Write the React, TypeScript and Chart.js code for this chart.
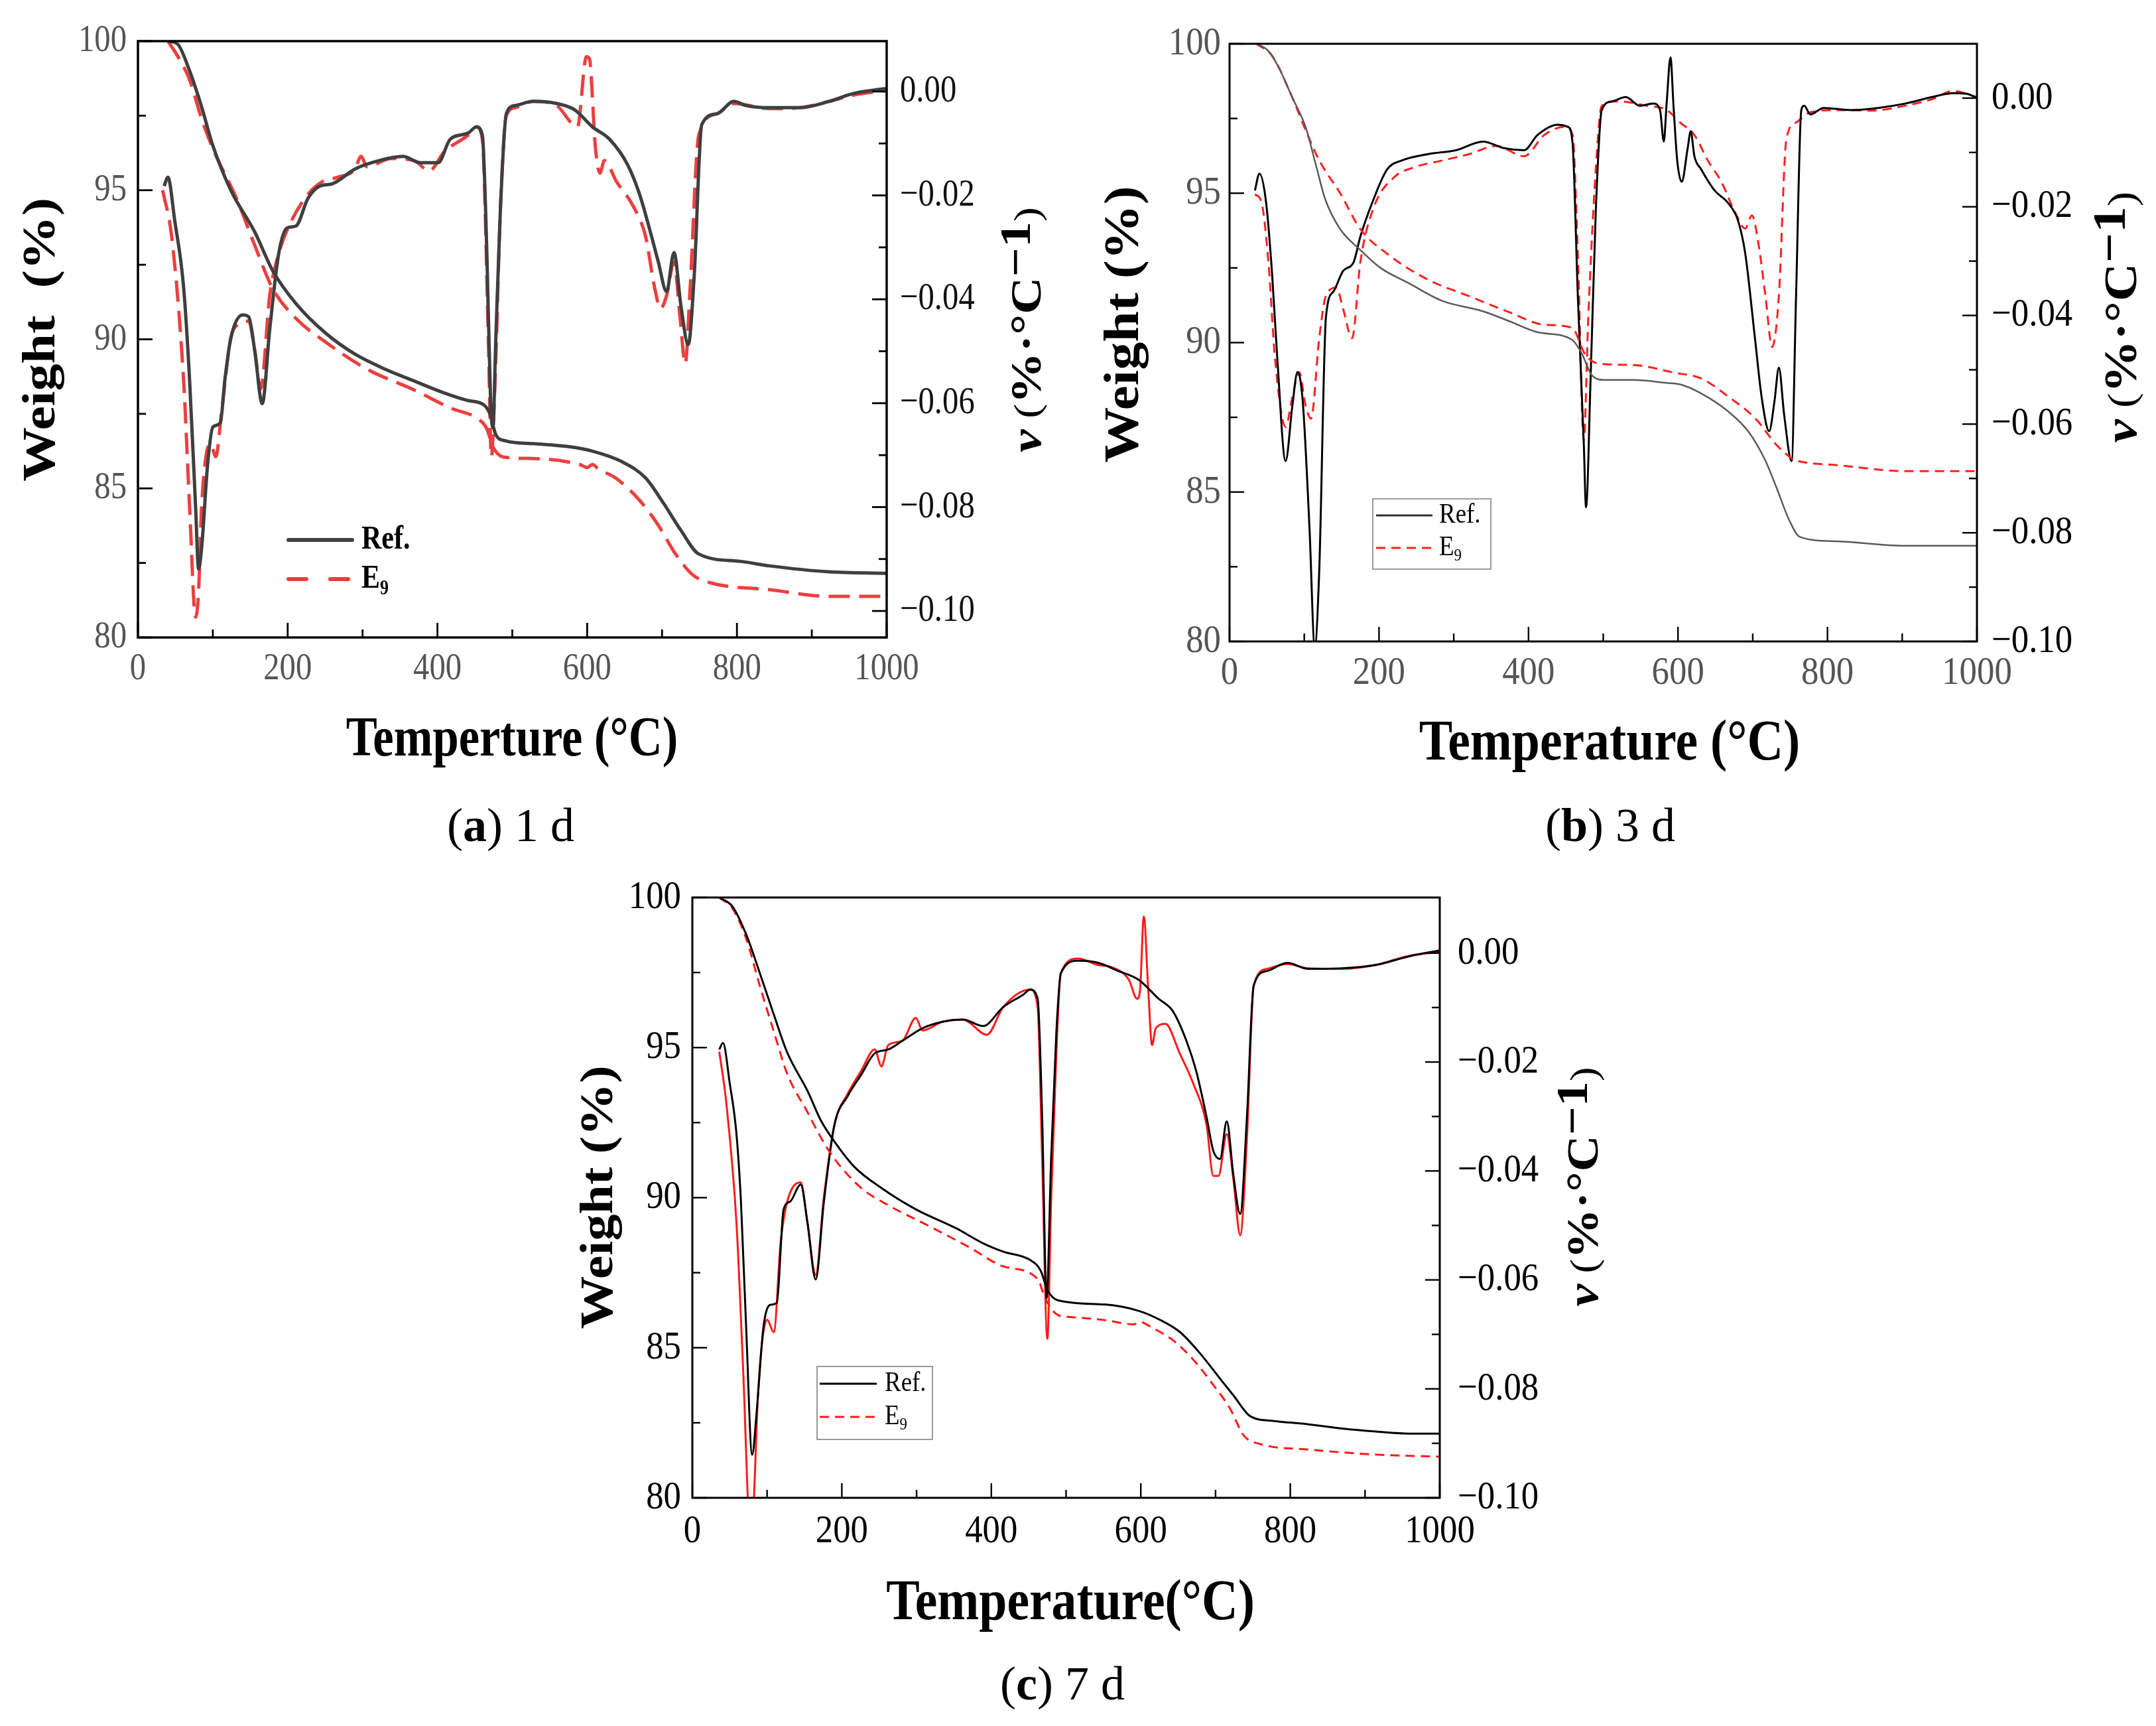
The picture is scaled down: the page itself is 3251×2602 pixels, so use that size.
import { useEffect, useRef } from 'react'
import Chart from 'chart.js/auto'

type Pt = [number, number]

// ---------- (a) 1 d : [temperature °C, value] ----------
const aRefTG: Pt[] = [
  [40, 100], [53, 99.9], [69, 99.0], [85, 97.8], [100, 96.5], [124, 95.0], [156, 93.6], [180, 92.3],
  [211, 91.2], [251, 90.2], [290, 89.5], [330, 89.0], [369, 88.6], [409, 88.2], [440, 87.95], [462, 87.8],
  [470, 87.5], [478, 86.8], [490, 86.6], [528, 86.5], [575, 86.4], [607, 86.25], [646, 85.9], [678, 85.35],
  [702, 84.5], [725, 83.6], [749, 82.8], [805, 82.55], [844, 82.4], [923, 82.2], [1000, 82.15],
]
const aE9TG: Pt[] = [
  [40, 100], [53, 99.5], [69, 98.7], [85, 97.4], [100, 96.4], [132, 94.7], [156, 93.15], [180, 91.7],
  [211, 90.7], [251, 89.9], [306, 89.0], [369, 88.3], [417, 87.7], [456, 87.3], [466, 87.0], [474, 86.4],
  [488, 86.05], [528, 86.0], [590, 85.8], [600, 85.7], [607, 85.8], [615, 85.65], [638, 85.35], [670, 84.6],
  [694, 83.8], [718, 82.8], [741, 82.1], [765, 81.83], [844, 81.6], [923, 81.38], [1000, 81.38],
]
const aRefDTG: Pt[] = [
  [35, -0.0182], [40, -0.0165], [49, -0.0247], [61, -0.0377], [69, -0.0556], [77, -0.08], [81, -0.0919],
  [85, -0.088], [93, -0.0719], [100, -0.0646], [110, -0.0638], [116, -0.0556], [124, -0.0475], [140, -0.043],
  [148, -0.0434], [156, -0.0499], [166, -0.0601], [176, -0.0458], [188, -0.0312], [199, -0.0263], [211, -0.0259],
  [227, -0.0206], [243, -0.0182], [259, -0.0178], [290, -0.0149], [322, -0.0133], [354, -0.0125], [377, -0.0137],
  [401, -0.0137], [417, -0.0092], [441, -0.008], [452, -0.0068], [460, -0.0084], [466, -0.031], [471, -0.0597],
  [474, -0.0646], [478, -0.0475], [484, -0.023], [492, -0.0043], [504, -0.0027], [528, -0.0019], [559, -0.0023],
  [583, -0.0035], [607, -0.0068], [630, -0.0092], [654, -0.0141], [670, -0.0198], [686, -0.0279], [695, -0.0328],
  [706, -0.0385], [716, -0.031], [725, -0.041], [735, -0.0487], [743, -0.0353], [753, -0.0064], [773, -0.0043],
  [796, -0.0019], [812, -0.0027], [844, -0.0031], [884, -0.0031], [923, -0.0019], [955, -0.0004], [1000, 0.0006],
]
const aE9DTG: Pt[] = [
  [33, -0.019], [45, -0.0279], [61, -0.0556], [69, -0.08], [77, -0.1012], [81, -0.0963], [85, -0.08],
  [97, -0.0678], [104, -0.0703], [112, -0.0613], [124, -0.0475], [132, -0.045], [148, -0.0442], [156, -0.0499],
  [164, -0.0572], [176, -0.0393], [188, -0.0312], [203, -0.0255], [227, -0.0198], [247, -0.0173], [267, -0.0165],
  [290, -0.0149], [298, -0.0125], [306, -0.0145], [338, -0.0129], [369, -0.0133], [389, -0.0153], [409, -0.0116],
  [441, -0.0084], [452, -0.0068], [460, -0.0092], [468, -0.0475], [472, -0.0703], [477, -0.0556], [484, -0.023],
  [492, -0.0047], [504, -0.0031], [528, -0.0019], [559, -0.0027], [587, -0.0068], [599, 0.0067], [603, 0.0063],
  [611, -0.0108], [617, -0.0157], [623, -0.0133], [639, -0.0173], [662, -0.0222], [678, -0.0279], [690, -0.0377],
  [698, -0.0418], [706, -0.0393], [716, -0.0328], [724, -0.0434], [731, -0.0524], [737, -0.0393], [749, -0.0084],
  [773, -0.0043], [796, -0.0023], [844, -0.0033], [884, -0.0031], [923, -0.0019], [955, -0.0007], [1000, 0.0002],
]

// ---------- (b) 3 d ----------
const bRefTG: Pt[] = [
  [36, 100], [52, 99.76], [66, 99.2], [84, 98.2], [102, 97.2], [116, 95.9], [128, 94.8], [148, 93.8],
  [175, 93.1], [202, 92.5], [239, 92.0], [284, 91.4], [339, 91.05], [376, 90.7], [412, 90.35], [458, 90.1],
  [471, 89.65], [485, 88.9], [503, 88.75], [540, 88.75], [585, 88.65], [603, 88.6], [631, 88.3], [667, 87.7],
  [695, 87.0], [717, 86.05], [731, 85.2], [749, 84.05], [763, 83.5], [813, 83.35], [904, 83.2], [1000, 83.2],
]
const bE9TG: Pt[] = [
  [36, 100], [57, 99.6], [84, 98.2], [102, 97.1], [120, 96.1], [148, 95.0], [175, 93.8], [211, 92.97],
  [266, 92.1], [321, 91.55], [376, 91.0], [421, 90.6], [458, 90.5], [476, 89.6], [494, 89.3], [540, 89.25],
  [594, 89.0], [631, 88.8], [667, 88.2], [704, 87.45], [731, 86.6], [754, 86.1], [768, 86.0], [813, 85.9],
  [904, 85.7], [1000, 85.7],
]
const bRefDTG: Pt[] = [
  [34, -0.017], [40, -0.0139], [49, -0.0193], [57, -0.0325], [64, -0.0481], [75, -0.0668], [84, -0.0567],
  [91, -0.0504], [98, -0.0559], [107, -0.0792], [114, -0.101], [120, -0.087], [129, -0.0403], [139, -0.0356],
  [152, -0.0318], [166, -0.0302], [175, -0.0255], [193, -0.0185], [211, -0.0131], [230, -0.0115], [266, -0.0103],
  [303, -0.0096], [339, -0.008], [367, -0.0092], [394, -0.0096], [412, -0.0068], [439, -0.0049], [453, -0.0053],
  [459, -0.0084], [466, -0.0364], [474, -0.0637], [477, -0.0753], [483, -0.052], [490, -0.0209], [498, -0.0022],
  [512, -0.0006], [530, 0.0002], [549, -0.0014], [567, -0.001], [576, -0.0022], [581, -0.008], [585, -0.0006],
  [590, 0.0075], [594, -0.0014], [599, -0.0115], [605, -0.0154], [613, -0.0092], [617, -0.0061], [622, -0.0107],
  [631, -0.0131], [649, -0.017], [667, -0.0193], [680, -0.0224], [690, -0.0286], [703, -0.0442], [712, -0.0551],
  [722, -0.0613], [729, -0.0559], [735, -0.0496], [742, -0.0582], [752, -0.0668], [758, -0.0364], [765, -0.0022],
  [769, -0.0014], [777, -0.003], [795, -0.0018], [831, -0.0022], [868, -0.0018], [904, -0.001], [940, 0.0002],
  [968, 0.0009], [986, 0.0008], [1000, 0],
]
const bE9DTG: Pt[] = [
  [34, -0.0177], [43, -0.0193], [52, -0.0302], [61, -0.0481], [75, -0.0605], [84, -0.0551], [93, -0.0504],
  [102, -0.0567], [109, -0.059], [120, -0.0442], [129, -0.0364], [143, -0.0349], [152, -0.0388], [164, -0.0442],
  [175, -0.0302], [193, -0.0201], [220, -0.0146], [248, -0.0127], [284, -0.0115], [321, -0.0103], [357, -0.0088],
  [394, -0.0107], [421, -0.0068], [448, -0.0053], [459, -0.0068], [466, -0.0286], [474, -0.063], [480, -0.0403],
  [490, -0.0131], [498, -0.0014], [521, -0.0006], [558, -0.0014], [585, -0.0022], [603, -0.0045], [622, -0.0068],
  [640, -0.0115], [658, -0.0154], [676, -0.0209], [690, -0.024], [699, -0.0216], [708, -0.0271], [717, -0.0364],
  [726, -0.0458], [735, -0.0364], [745, -0.0076], [758, -0.0045], [777, -0.0026], [813, -0.0022], [859, -0.0023],
  [904, -0.0014], [940, -0.0002], [968, 0.0013], [1000, 0.0002],
]

// ---------- (c) 7 d ----------
const cRefTG: Pt[] = [
  [36, 100], [54, 99.69], [72, 98.77], [90, 97.5], [109, 96.1], [127, 94.83], [154, 93.56], [172, 92.57],
  [190, 91.87], [217, 91.02], [253, 90.32], [299, 89.61], [353, 88.98], [389, 88.48], [416, 88.2], [452, 87.92],
  [466, 87.57], [475, 86.93], [489, 86.58], [552, 86.44], [597, 86.23], [624, 85.95], [652, 85.53], [679, 84.82],
  [706, 83.97], [724, 83.41], [747, 82.71], [778, 82.56], [824, 82.45], [869, 82.31], [914, 82.21], [959, 82.14],
  [1000, 82.14],
]
const cE9TG: Pt[] = [
  [36, 100], [54, 99.62], [72, 98.63], [90, 97.08], [109, 95.53], [127, 94.12], [154, 92.85], [172, 92.0],
  [190, 91.3], [226, 90.32], [262, 89.75], [317, 89.05], [371, 88.34], [416, 87.71], [462, 87.29], [472, 86.65],
  [489, 86.09], [507, 86.02], [552, 85.92], [590, 85.78], [600, 85.85], [615, 85.67], [643, 85.25], [670, 84.61],
  [697, 83.76], [719, 82.99], [738, 82.07], [760, 81.79], [824, 81.61], [914, 81.44], [1000, 81.37],
]
const cRefDTG: Pt[] = [
  [36, -0.0177], [41, -0.0165], [50, -0.0239], [59, -0.0332], [65, -0.0456], [72, -0.0688], [80, -0.0921],
  [86, -0.0843], [95, -0.0688], [104, -0.0646], [113, -0.0642], [122, -0.0471], [131, -0.0456], [145, -0.0425],
  [154, -0.0495], [165, -0.0599], [176, -0.0456], [190, -0.0316], [208, -0.0262], [226, -0.0223], [244, -0.0184],
  [262, -0.0177], [281, -0.0161], [308, -0.0138], [335, -0.0126], [362, -0.0122], [389, -0.0134], [416, -0.0099],
  [443, -0.0076], [452, -0.0067], [462, -0.0084], [468, -0.0301], [474, -0.0634], [480, -0.0378], [487, -0.0146],
  [493, -0.0037], [516, -0.0014], [543, -0.0018], [570, -0.0033], [597, -0.0049], [624, -0.0084], [643, -0.0107],
  [661, -0.0161], [674, -0.0216], [688, -0.0301], [697, -0.0363], [706, -0.0378], [715, -0.0309], [724, -0.0409],
  [733, -0.0479], [742, -0.0301], [751, -0.006], [769, -0.0033], [796, -0.0018], [824, -0.0029], [869, -0.0028],
  [914, -0.0022], [959, -0.0006], [1000, 0.0005],
]
const cE9DTG: Pt[] = [
  [36, -0.0181], [45, -0.027], [59, -0.0495], [68, -0.0766], [77, -0.1045], [81, -0.103], [88, -0.0805],
  [100, -0.0673], [109, -0.0696], [118, -0.0533], [127, -0.0456], [145, -0.0421], [154, -0.0495], [165, -0.0591],
  [176, -0.0448], [190, -0.0316], [208, -0.0258], [226, -0.0216], [244, -0.0177], [253, -0.0208], [262, -0.0169],
  [281, -0.0161], [299, -0.0119], [308, -0.0142], [335, -0.0126], [362, -0.0122], [394, -0.015], [416, -0.0099],
  [452, -0.0067], [462, -0.0099], [468, -0.0378], [475, -0.0708], [480, -0.0456], [487, -0.0184], [493, -0.0037],
  [516, -0.001], [543, -0.0022], [561, -0.0026], [584, -0.0049], [595, -0.0084], [599, -0.0068], [604, 0.0067],
  [610, -0.0068], [615, -0.0169], [620, -0.0138], [633, -0.013], [652, -0.0184], [670, -0.0239], [688, -0.0316],
  [697, -0.0409], [704, -0.0409], [715, -0.0332], [724, -0.0417], [733, -0.0518], [742, -0.034], [751, -0.006],
  [769, -0.0029], [796, -0.002], [824, -0.0028], [869, -0.0029], [914, -0.0022], [959, -0.0005], [1000, 0.0002],
]

const tempTicks = [0, 200, 400, 600, 800, 1000]
const weightTicks = [80, 85, 90, 95, 100]
const rateTicks = [-0.1, -0.08, -0.06, -0.04, -0.02, 0]

const SERIF = '"Liberation Serif", "Times New Roman", serif'

interface Series { data: Pt[]; axis: 'y' | 'y1'; color: string; width: number; dash: number[] }
interface Legend {
  box?: number[]; x0: number; x1: number; ys: number[]; tx: number; size: number; bold: boolean
  refColor: string; e9Color: string; width: number; dash: number[]; cap: CanvasLineCap
}
interface Panel {
  box: number[] // canvas on page: left, top, width, height
  area: number[] // plot area on page: left, top, right, bottom
  rate: [number, number]
  series: Series[]
  xTitle: string
  yTitle: string
  xTitleAt: Pt
  yTitleAt: Pt
  rTitleAt: Pt
  titleSize: number
  xTitleSize: number
  tickSize: number
  squeeze: number
  leftLabelX: number
  rightLabelX: number
  xLabelY: number
  leftTickColor: string
  rightTickColor: string
  axisWidth: number
  major: number
  minor: number
  legend: Legend
}

const panelA: Panel = {
  box: [0, 0, 1620, 1190],
  area: [208, 62, 1337, 961],
  rate: [-0.1051, 0.0097],
  series: [
    { data: aRefTG, axis: 'y', color: '#3f3f3f', width: 5, dash: [] },
    { data: aE9TG, axis: 'y', color: '#ec3f3f', width: 5, dash: [32, 14] },
    { data: aRefDTG, axis: 'y1', color: '#3f3f3f', width: 5, dash: [] },
    { data: aE9DTG, axis: 'y1', color: '#ec3f3f', width: 5, dash: [32, 14] },
  ],
  xTitle: 'Temperture (°C)',
  yTitle: 'Weight  (%)',
  xTitleAt: [772, 1117],
  yTitleAt: [64, 512],
  rTitleAt: [1552, 497],
  titleSize: 82,
  xTitleSize: 84,
  tickSize: 58,
  squeeze: 0.84,
  leftLabelX: 191,
  rightLabelX: 1357,
  xLabelY: 1009,
  leftTickColor: '#555',
  rightTickColor: '#111',
  axisWidth: 3.5,
  major: 22,
  minor: 12,
  legend: {
    x0: 435, x1: 531, ys: [814, 873], tx: 545, size: 50, bold: true,
    refColor: '#444', e9Color: '#ee3b3b', width: 6, dash: [27, 36], cap: 'round',
  },
}

const panelB: Panel = {
  box: [1620, 0, 1631, 1190],
  area: [1854, 66, 2981, 967],
  rate: [-0.1, 0.01],
  series: [
    { data: bRefTG, axis: 'y', color: '#5a5a5a', width: 2.5, dash: [] },
    { data: bE9TG, axis: 'y', color: '#ff2020', width: 3, dash: [14, 9] },
    { data: bRefDTG, axis: 'y1', color: '#000', width: 3, dash: [] },
    { data: bE9DTG, axis: 'y1', color: '#ff2020', width: 3, dash: [14, 9] },
  ],
  xTitle: 'Temperature (°C)',
  yTitle: 'Weight (%)',
  xTitleAt: [2427, 1123],
  yTitleAt: [1697, 489],
  rTitleAt: [3203, 478],
  titleSize: 84,
  xTitleSize: 86,
  tickSize: 60,
  squeeze: 0.88,
  leftLabelX: 1841,
  rightLabelX: 3003,
  xLabelY: 1015,
  leftTickColor: '#555',
  rightTickColor: '#000',
  axisWidth: 3,
  major: 22,
  minor: 12,
  legend: {
    box: [2070, 752, 2248, 858], x0: 2075, x1: 2160, ys: [777, 826], tx: 2170, size: 42, bold: false,
    refColor: '#333', e9Color: '#ff2020', width: 3, dash: [14, 9], cap: 'butt',
  },
}

const panelC: Panel = {
  box: [820, 1290, 1640, 1210],
  area: [1044, 1353, 2171, 2258],
  rate: [-0.1, 0.0102],
  series: [
    { data: cRefTG, axis: 'y', color: '#000', width: 3, dash: [] },
    { data: cE9TG, axis: 'y', color: '#ff1a1a', width: 3, dash: [14, 9] },
    { data: cRefDTG, axis: 'y1', color: '#000', width: 3, dash: [] },
    { data: cE9DTG, axis: 'y1', color: '#ff1a1a', width: 3, dash: [] },
  ],
  xTitle: 'Temperature(°C)',
  yTitle: 'Weight (%)',
  xTitleAt: [1614, 2419],
  yTitleAt: [905, 1805],
  rTitleAt: [2392, 1789],
  titleSize: 80,
  xTitleSize: 86,
  tickSize: 60,
  squeeze: 0.88,
  leftLabelX: 1027,
  rightLabelX: 2198,
  xLabelY: 2309,
  leftTickColor: '#000',
  rightTickColor: '#000',
  axisWidth: 3,
  major: 22,
  minor: 12,
  legend: {
    box: [1232, 2060, 1406, 2170], x0: 1236, x1: 1322, ys: [2086, 2136], tx: 1334, size: 42, bold: false,
    refColor: '#000', e9Color: '#ff1a1a', width: 3, dash: [14, 9], cap: 'butt',
  },
}

function text(ctx: CanvasRenderingContext2D, s: string, x: number, y: number, font: string, align: CanvasTextAlign, sx: number, color = '#000') {
  ctx.save()
  ctx.translate(x, y)
  ctx.scale(sx, 1)
  ctx.font = font
  ctx.fillStyle = color
  ctx.textAlign = align
  ctx.textBaseline = 'middle'
  ctx.fillText(s, 0, 0)
  ctx.restore()
}

function decorations(p: Panel) {
  return {
    id: 'decor',
    afterDatasetsDraw(chart: Chart) {
      const ctx = chart.ctx
      const ox = p.box[0]
      const oy = p.box[1]
      const { left, right, top, bottom } = chart.chartArea
      const sx = chart.scales.x
      const sy = chart.scales.y
      const sr = chart.scales.y1
      ctx.save()
      ctx.strokeStyle = '#000'
      ctx.lineWidth = p.axisWidth
      ctx.setLineDash([])
      ctx.strokeRect(left, top, right - left, bottom - top)

      const tick = (x1: number, y1: number, x2: number, y2: number) => {
        ctx.beginPath()
        ctx.moveTo(x1, y1)
        ctx.lineTo(x2, y2)
        ctx.stroke()
      }
      // inward ticks, majors and minors
      ctx.lineWidth = p.axisWidth * 0.8
      for (let v = 0; v <= 1000; v += 100) {
        const px = sx.getPixelForValue(v)
        tick(px, bottom, px, bottom - (v % 200 === 0 ? p.major : p.minor))
      }
      for (let i = 0; i <= 8; i++) {
        const py = sy.getPixelForValue(80 + i * 2.5)
        tick(left, py, left + (i % 2 === 0 ? p.major : p.minor), py)
      }
      for (let i = 0; i <= 10; i++) {
        const py = sr.getPixelForValue(-0.1 + i * 0.01)
        tick(right, py, right - (i % 2 === 0 ? p.major : p.minor), py)
      }

      // tick labels
      const tf = `${p.tickSize}px ${SERIF}`
      tempTicks.forEach(v => text(ctx, String(v), sx.getPixelForValue(v), p.xLabelY - oy, tf, 'center', p.squeeze, p.leftTickColor))
      weightTicks.forEach(v => text(ctx, String(v), p.leftLabelX - ox, sy.getPixelForValue(v), tf, 'right', p.squeeze, p.leftTickColor))
      rateTicks.forEach(v => {
        const s = v === 0 ? '0.00' : '\u2212' + Math.abs(v).toFixed(2)
        text(ctx, s, p.rightLabelX - ox, sr.getPixelForValue(v), tf, 'left', p.squeeze, p.rightTickColor)
      })

      // axis titles
      const bf = `bold ${p.titleSize}px ${SERIF}`
      text(ctx, p.xTitle, p.xTitleAt[0] - ox, p.xTitleAt[1] - oy, `bold ${p.xTitleSize}px ${SERIF}`, 'center', p.squeeze)

      ctx.save()
      ctx.translate(p.yTitleAt[0] - ox, p.yTitleAt[1] - oy)
      ctx.rotate(-Math.PI / 2)
      ctx.scale(1, p.squeeze)
      ctx.font = bf
      ctx.fillStyle = '#000'
      ctx.textAlign = 'center'
      ctx.textBaseline = 'middle'
      ctx.fillText(p.yTitle, 0, 0)
      ctx.restore()

      // right title: v (%·°C−1)
      const s = p.titleSize * 0.95
      const parts = [
        { t: 'v', f: `italic bold ${s}px ${SERIF}`, dy: 0 },
        { t: ' (', f: `${s * 0.85}px ${SERIF}`, dy: 0 },
        { t: '%·°C', f: `bold ${s}px ${SERIF}`, dy: 0 },
        { t: '\u22121', f: `bold ${s}px ${SERIF}`, dy: -0.25 * s },
        { t: ')', f: `${s * 0.85}px ${SERIF}`, dy: 0 },
      ]
      ctx.save()
      ctx.translate(p.rTitleAt[0] - ox, p.rTitleAt[1] - oy)
      ctx.rotate(-Math.PI / 2)
      ctx.scale(1, p.squeeze)
      ctx.fillStyle = '#000'
      ctx.textBaseline = 'middle'
      ctx.textAlign = 'left'
      let total = 0
      const widths = parts.map(q => {
        ctx.font = q.f
        const w = ctx.measureText(q.t).width
        total += w
        return w
      })
      let cx = -total / 2
      parts.forEach((q, i) => {
        ctx.font = q.f
        ctx.fillText(q.t, cx, q.dy)
        cx += widths[i]
      })
      ctx.restore()

      // legend
      const lg = p.legend
      if (lg.box) {
        ctx.strokeStyle = '#9a9a9a'
        ctx.lineWidth = 2
        ctx.strokeRect(lg.box[0] - ox, lg.box[1] - oy, lg.box[2] - lg.box[0], lg.box[3] - lg.box[1])
      }
      const lf = `${lg.bold ? 'bold ' : ''}${lg.size}px ${SERIF}`
      const entries = [
        { c: lg.refColor, d: [] as number[] },
        { c: lg.e9Color, d: lg.dash },
      ]
      ctx.lineCap = lg.cap
      entries.forEach((e, i) => {
        ctx.strokeStyle = e.c
        ctx.lineWidth = lg.width
        ctx.setLineDash(e.d)
        tick(lg.x0 - ox, lg.ys[i] - oy, lg.x1 - ox, lg.ys[i] - oy)
      })
      ctx.setLineDash([])
      ctx.lineCap = 'butt'
      text(ctx, 'Ref.', lg.tx - ox, lg.ys[0] - oy, lf, 'left', p.squeeze)
      text(ctx, 'E', lg.tx - ox, lg.ys[1] - oy, lf, 'left', p.squeeze)
      ctx.font = lf
      const ew = ctx.measureText('E').width * p.squeeze
      text(ctx, '9', lg.tx - ox + ew, lg.ys[1] - oy + lg.size * 0.3, `${lg.bold ? 'bold ' : ''}${lg.size * 0.62}px ${SERIF}`, 'left', p.squeeze)
      ctx.restore()
    },
  }
}

function PanelChart({ p }: { p: Panel }) {
  const canvasRef = useRef<HTMLCanvasElement>(null)

  useEffect(() => {
    if (!canvasRef.current) return
    const [bx, by, bw, bh] = p.box
    const [al, at, ar, ab] = p.area
    const chart = new Chart(canvasRef.current, {
      type: 'line',
      data: {
        datasets: p.series.map(s => ({
          data: s.data.map(([x, y]) => ({ x, y })),
          yAxisID: s.axis,
          borderColor: s.color,
          borderWidth: s.width,
          borderDash: s.dash,
          borderJoinStyle: 'round' as const,
          pointRadius: 0,
          fill: false,
          cubicInterpolationMode: 'monotone' as const,
        })),
      },
      options: {
        animation: false,
        responsive: false,
        devicePixelRatio: 1,
        events: [],
        layout: { padding: { top: at - by, left: 0, right: 0, bottom: 0 } },
        plugins: { legend: { display: false }, tooltip: { enabled: false } },
        scales: {
          x: {
            type: 'linear', position: 'bottom', min: 0, max: 1000,
            grid: { display: false }, border: { display: false }, ticks: { display: false },
            afterFit: s => { s.height = by + bh - ab },
          },
          y: {
            type: 'linear', position: 'left', min: 80, max: 100,
            grid: { display: false }, border: { display: false }, ticks: { display: false },
            afterFit: s => { s.width = al - bx },
          },
          y1: {
            type: 'linear', position: 'right', min: p.rate[0], max: p.rate[1],
            grid: { display: false }, border: { display: false }, ticks: { display: false },
            afterFit: s => { s.width = bx + bw - ar },
          },
        },
      },
      plugins: [decorations(p)],
    })
    return () => chart.destroy()
  }, [p])

  return (
    <canvas
      ref={canvasRef}
      width={p.box[2]}
      height={p.box[3]}
      style={{ position: 'absolute', left: p.box[0], top: p.box[1], width: p.box[2], height: p.box[3] }}
    />
  )
}

function Caption({ x, y, tag, rest }: { x: number; y: number; tag: string; rest: string }) {
  return (
    <div
      style={{
        position: 'absolute', left: x, top: y, transform: 'translate(-50%, -50%)',
        font: `72px ${SERIF}`, color: '#000', whiteSpace: 'nowrap', lineHeight: 1,
      }}
    >
      (<b>{tag}</b>) {rest}
    </div>
  )
}

export default function App() {
  return (
    <div style={{ position: 'absolute', left: 0, top: 0, width: 3251, height: 2602, background: '#fff', overflow: 'hidden' }}>
      <PanelChart p={panelA} />
      <PanelChart p={panelB} />
      <PanelChart p={panelC} />
      <Caption x={770} y={1244} tag="a" rest="1 d" />
      <Caption x={2428} y={1244} tag="b" rest="3 d" />
      <Caption x={1602} y={2538} tag="c" rest="7 d" />
    </div>
  )
}
